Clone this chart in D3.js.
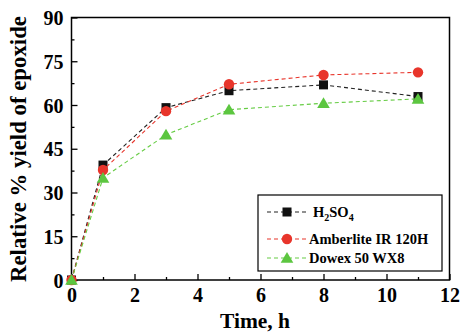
<!DOCTYPE html>
<html>
<head>
<meta charset="utf-8">
<script src="https://cdn.jsdelivr.net/npm/d3@7"></script>
<style>
  html, body { margin: 0; padding: 0; background: #fff; }
  svg { display: block; font-family: "Liberation Serif", "Times New Roman", serif; font-weight: bold; }
</style>
</head>
<body>
<svg id="chart" width="462" height="333"></svg>
<script>
// Reaction time (h) and relative epoxide yield (%) per catalyst
const timeH = [0, 1, 3, 5, 8, 11];
const h2so4 = [0, 39.4, 59.1, 64.9, 66.9, 62.9];
const amberlite = [0, 37.7, 57.9, 67.1, 70.3, 71.2];
const dowex = [0, 35.0, 49.8, 58.4, 60.6, 62.1];
const xTicks = [0, 2, 4, 6, 8, 10, 12];
const yTicks = [0, 15, 30, 45, 60, 75, 90];

const seriesList = [
  { name: "H2SO4", values: h2so4, line: "#222", fill: "#111", marker: "square" },
  { name: "Amberlite IR 120H", values: amberlite, line: "#e8352b", fill: "#e8352b", marker: "circle" },
  { name: "Dowex 50 WX8", values: dowex, line: "#66cc44", fill: "#5cc640", marker: "triangle" }
];

const svg = d3.select("#chart");
const plotL = 71.5, plotR = 449.5, plotT = 17.5, plotB = 280;

const x = d3.scaleLinear().domain([0, 12]).range([plotL, plotR]);
const y = d3.scaleLinear().domain([0, 90]).range([plotB, plotT]);

// frame
svg.append("rect")
  .attr("x", plotL).attr("y", plotT)
  .attr("width", plotR - plotL).attr("height", plotB - plotT)
  .attr("fill", "none").attr("stroke", "#000").attr("stroke-width", 1.5);

// bottom axis: major ticks every 2 h, minor every 1 h, pointing inward
const xAxis = svg.append("g").attr("transform", `translate(0,${plotB})`)
  .call(d3.axisBottom(x).tickValues(xTicks).tickSize(-6).tickFormat(d3.format("d")));
xAxis.select(".domain").remove();
xAxis.selectAll("line").attr("stroke-width", 1.3);
xAxis.selectAll("text").attr("font-size", 20).attr("font-weight", "bold")
  .attr("font-family", "Liberation Serif").attr("fill", "#000")
  .attr("y", 22).attr("dy", 0);
svg.append("g").attr("transform", `translate(0,${plotB})`)
  .call(d3.axisBottom(x).tickValues(d3.range(1, 12, 2)).tickSize(-3).tickFormat(""))
  .call(g => g.select(".domain").remove())
  .selectAll("line").attr("stroke-width", 1.3);

// left axis: major ticks every 15 %, minor halfway
const yAxis = svg.append("g").attr("transform", `translate(${plotL},0)`)
  .call(d3.axisLeft(y).tickValues(yTicks).tickSize(-6));
yAxis.select(".domain").remove();
yAxis.selectAll("line").attr("stroke-width", 1.3);
yAxis.selectAll("text").attr("font-size", 20).attr("font-weight", "bold")
  .attr("font-family", "Liberation Serif").attr("fill", "#000")
  .attr("x", -8).attr("dy", "0.36em");
svg.append("g").attr("transform", `translate(${plotL},0)`)
  .call(d3.axisLeft(y).tickValues(d3.range(7.5, 90, 15)).tickSize(-3).tickFormat(""))
  .call(g => g.select(".domain").remove())
  .selectAll("line").attr("stroke-width", 1.3);

// axis titles
svg.append("text")
  .attr("x", 255).attr("y", 328)
  .attr("text-anchor", "middle").attr("font-size", 21.5)
  .text("Time, h");
svg.append("text")
  .attr("transform", `translate(26,149) rotate(-90)`)
  .attr("text-anchor", "middle").attr("font-size", 22.8)
  .text("Relative % yield of epoxide");

function drawMarker(g, type, cx, cy, fill) {
  if (type === "square") {
    g.append("rect").attr("x", cx - 4.5).attr("y", cy - 4.5).attr("width", 9).attr("height", 9).attr("fill", fill);
  } else if (type === "circle") {
    g.append("circle").attr("cx", cx).attr("cy", cy).attr("r", 5.2).attr("fill", fill);
  } else {
    const s = 6;
    g.append("path")
      .attr("d", `M${cx},${cy - s}L${cx + s * 1.05},${cy + s * 0.8}L${cx - s * 1.05},${cy + s * 0.8}Z`)
      .attr("fill", fill);
  }
}

const line = d3.line().x((d, i) => x(timeH[i])).y(d => y(d));
const plot = svg.append("g");
seriesList.forEach(s => {
  plot.append("path").datum(s.values)
    .attr("d", line).attr("fill", "none")
    .attr("stroke", s.line).attr("stroke-width", 1.1)
    .attr("stroke-dasharray", "4,3");
  const mg = plot.append("g");
  s.values.forEach((v, i) => drawMarker(mg, s.marker, x(timeH[i]), y(v), s.fill));
});

// legend
const lg = svg.append("g");
lg.append("rect").attr("x", 258).attr("y", 195).attr("width", 184).attr("height", 76)
  .attr("fill", "#fff").attr("stroke", "#000").attr("stroke-width", 1.2);
const legY = [212, 239, 258];
seriesList.forEach((s, i) => {
  const yy = legY[i];
  lg.append("line").attr("x1", 267).attr("x2", 307).attr("y1", yy).attr("y2", yy)
    .attr("stroke", s.line).attr("stroke-width", 1.1).attr("stroke-dasharray", "4,3");
  drawMarker(lg, s.marker, 287, yy, s.fill);
});
const t0 = lg.append("text").attr("x", 313).attr("y", legY[0] + 5).attr("font-size", 14.5);
t0.append("tspan").text("H");
t0.append("tspan").attr("font-size", 10).attr("dy", 4).text("2");
t0.append("tspan").attr("dy", -4).text("SO");
t0.append("tspan").attr("font-size", 10).attr("dy", 4).text("4");
lg.append("text").attr("x", 309).attr("y", legY[1] + 5).attr("font-size", 14.5).text("Amberlite IR 120H");
lg.append("text").attr("x", 309).attr("y", legY[2] + 5).attr("font-size", 14.5).text("Dowex 50 WX8");
</script>
</body>
</html>
